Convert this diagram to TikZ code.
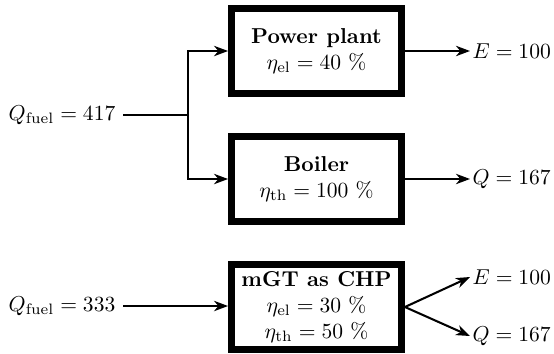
\documentclass[tikz,border=0pt]{standalone}
\usetikzlibrary{arrows.meta}
\begin{document}
\begin{tikzpicture}[x=0.4636pt,y=-0.4636pt,
  unitbox/.style={draw,line width=3pt,minimum width=79pt,minimum height=39.5pt,align=center,inner sep=2pt},
  flow/.style={line width=0.95pt,-{Stealth[length=6.5pt,width=4.8pt,inset=2pt]}},
  plain/.style={line width=0.95pt},
  outlbl/.style={anchor=west,inner sep=1pt},
  inlbl/.style={anchor=east}]
\useasboundingbox (0,0) rectangle (554,353);
\node[unitbox] (pp) at (316.5,51) {\textbf{Power plant}\\$\eta_{\mathrm{el}} = 40$~\%};
\node[unitbox] (boiler) at (316.5,179) {\textbf{Boiler}\\$\eta_{\mathrm{th}} = 100$~\%};
\node[unitbox] (mgt) at (316.5,307) {\textbf{mGT as CHP}\\$\eta_{\mathrm{el}} = 30$~\%\\$\eta_{\mathrm{th}} = 50$~\%};
\node[inlbl] (qf1) at (123,115) {$Q_{\mathrm{fuel}} = 417$};
\node[inlbl] (qf2) at (123,306) {$Q_{\mathrm{fuel}} = 333$};
\coordinate (j) at (188,115);
\node[outlbl] (e1) at (470,51) {$E = 100$};
\node[outlbl] (q1) at (470,179) {$Q = 167$};
\node[outlbl] (e2) at (470,277) {$E = 100$};
\node[outlbl] (q2) at (470,336) {$Q = 167$};
\draw[plain] (qf1.east) -- (j);
\draw[flow] (j) |- (pp.west);
\draw[flow] (j) |- (boiler.west);
\draw[flow] (pp.east) -- (e1.west);
\draw[flow] (boiler.east) -- (q1.west);
\draw[flow] (qf2.east) -- (qf2.east -| mgt.west);
\draw[flow] (mgt.east) -- (e2.west);
\draw[flow] (mgt.east) -- (q2.west);
\end{tikzpicture}
\end{document}
